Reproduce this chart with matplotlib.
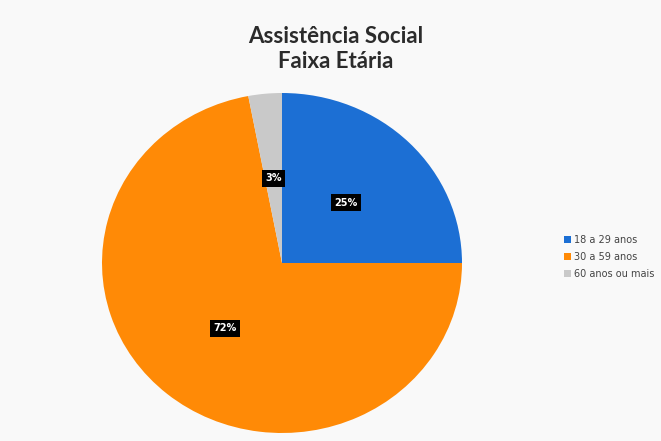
import matplotlib.pyplot as plt

# dados
categorias = ["18 a 29 anos", "30 a 59 anos", "60 anos ou mais"]
valores = [25, 72, 3]
cores = ["#1c6fd4", "#ff8a06", "#c9c9c9"]

fig = plt.figure(figsize=(6.61, 4.41), dpi=100)
fig.patch.set_facecolor("#f9f9f9")

W, H = 661, 441
cx, cy, rx, ry = 282, 263, 180, 170
ax = fig.add_axes([(cx - rx) / W, (H - cy - ry) / H, 2 * rx / W, 2 * ry / H])
ax.set_facecolor("none")

wedges, texts, autotexts = ax.pie(
    valores, colors=cores, startangle=90, counterclock=False,
    autopct="%d%%", pctdistance=0.5, radius=1,
    wedgeprops=dict(linewidth=0),
)
for t in autotexts:
    t.set_color("white")
    t.set_fontsize(7)
    t.set_fontweight("bold")
    t.set_bbox(dict(boxstyle="square,pad=0.35", fc="black", ec="none"))
ax.set_xlim(-1, 1)
ax.set_ylim(-1, 1)
ax.set_aspect("auto")

fig.text(336 / W, 1 - 49 / H, "Assistência Social\nFaixa Etária",
         ha="center", va="center", fontsize=16, fontweight="bold",
         family="Lato", color="#2b2b2b", linespacing=1.25)

leg = fig.legend(wedges, categorias, loc="center left",
                 bbox_to_anchor=(555 / W, 1 - 257 / H), frameon=False,
                 fontsize=7, handlelength=0.7, handleheight=0.7,
                 handletextpad=0.4, labelspacing=0.75)
for t in leg.get_texts():
    t.set_color("#444444")

fig.savefig("out.png", dpi=100, facecolor=fig.get_facecolor())
